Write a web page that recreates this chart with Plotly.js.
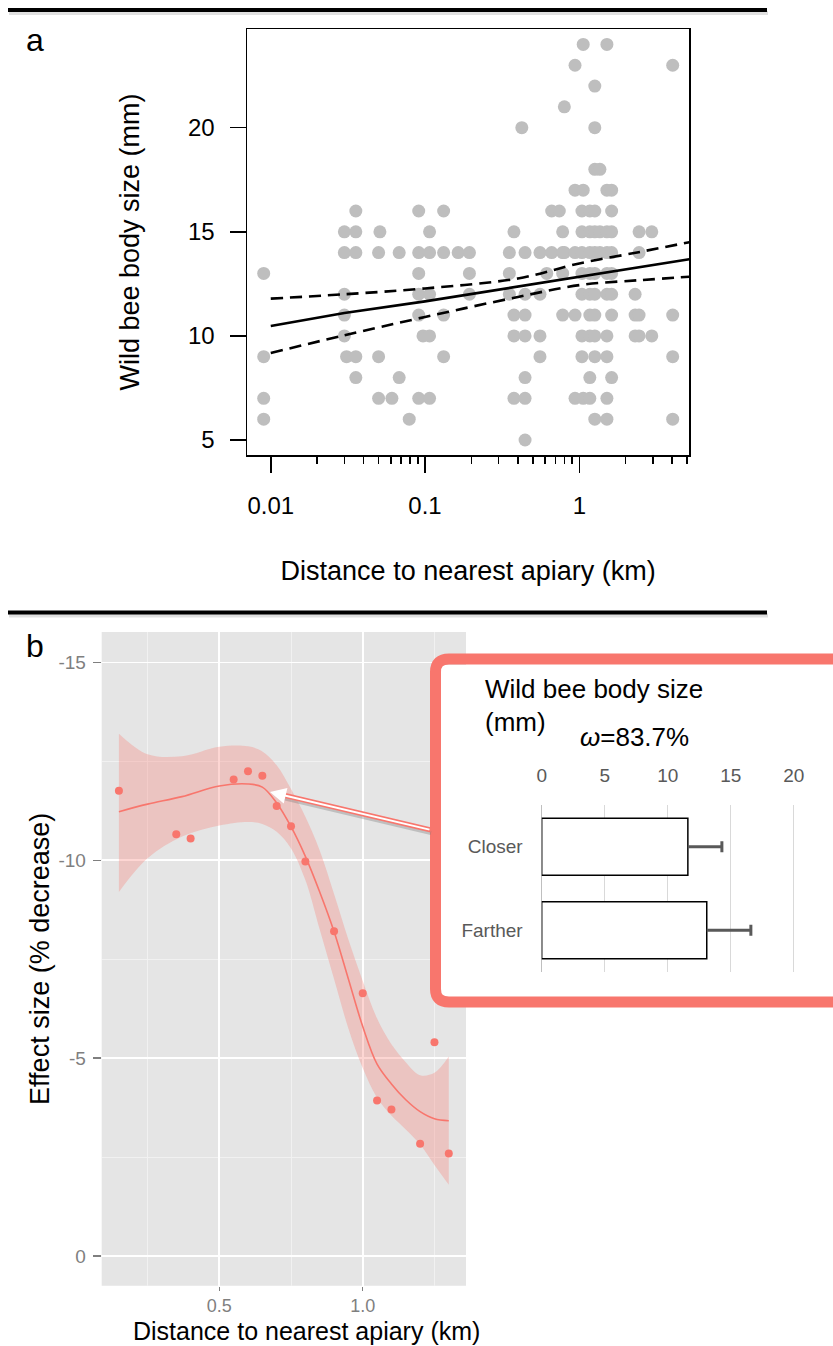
<!DOCTYPE html>
<html><head><meta charset="utf-8">
<script src="https://cdn.plot.ly/plotly-3.0.1.min.js"></script>
<style>html,body{margin:0;padding:0;background:#fff}</style>
</head><body><div id="chart" style="width:833px;height:1346px"></div>
<script>
// ---------- Panel a : wild bee body size vs distance (log scale) ----------
const beeDist = [
  0.009,0.009,0.009,0.009,
  0.030,0.030,0.030,0.030,0.030, 0.031,
  0.0356,0.0356,0.0356,0.0356,0.0356,
  0.050,0.050,0.050, 0.051, 0.061, 0.068,0.068, 0.079,
  0.091,0.091,0.091,0.091,0.091,0.091, 0.097,
  0.107,0.107,0.107,0.107,0.107,
  0.132,0.132,0.132,0.132, 0.164, 0.194,0.194,0.194,
  0.352,0.352,0.352, 0.377,0.377,0.377,0.377, 0.424,
  0.445,0.445,0.445,0.445,0.445,0.445,0.445,
  0.556,0.556,0.556,0.556, 0.615, 0.662,0.662, 0.742,
  0.780,0.780,0.780,0.780, 0.800,0.800,
  0.938,0.938,0.938,0.938,0.938,
  1.04,1.04,1.04,1.04,1.04,1.04,1.04, 1.06,1.06,1.06,
  1.17,1.17,1.17,1.17,1.17,1.17,1.17,1.17,1.17,
  1.26,1.26,1.26,1.26,1.26,1.26,1.26,1.26,1.26,1.26,1.26,1.26,
  1.36,1.36,1.36,
  1.51,1.51,1.51,1.51,1.51,1.51,1.51,1.51,1.51,1.51,
  1.62,1.62,1.62,1.62,1.62,1.62,1.62,1.62,
  2.30,2.30,2.30, 2.44,2.44,2.44,2.44, 2.95,2.95,
  4.03,4.03,4.03,4.03
];
const beeSize = [
  13,9,7,6,
  15,14,12,11,10, 9,
  16,15,14,9,8,
  14,9,7, 15, 7, 14,8, 6,
  16,14,13,12,11,7, 10,
  15,14,12,10,7,
  16,14,11,9, 14, 14,13,12,
  14,13,12, 15,11,10,7, 20,
  14,12,11,10,8,7,5,
  14,12,10,9, 13, 16,14, 16,
  15,14,13,11, 21,14,
  23,17,14,11,7,
  16,15,14,13,12,10,9, 24,17,7,
  16,15,14,13,12,11,10,8,7,
  22,20,18,16,15,14,13,12,11,10,9,6,
  18,15,14,
  24,17,15,14,13,12,10,9,7,6,
  17,16,15,14,13,12,11,8,
  12,11,10, 15,14,11,10, 15,10,
  23,11,9,6
];
const fitDist  = [0.01, 0.03, 0.1, 0.4, 1, 2.5, 5.16];
const fitMid   = [10.48, 11.10, 11.66, 12.37, 12.84, 13.31, 13.68];
const fitUpper = [11.79, 12.00, 12.28, 12.76, 13.48, 14.04, 14.50];
const fitLower = [9.18, 10.03, 10.91, 11.87, 12.44, 12.68, 12.84];
const aXTickVals = [0.01, 0.1, 1];
const aXTickText = ['0.01', '0.1', '1'];
const aXMinorVals = [0.02,0.03,0.04,0.05,0.06,0.07,0.08,0.09,0.2,0.3,0.4,0.5,0.6,0.7,0.8,0.9,2,3,4,5];
const aYTickVals = [5, 10, 15, 20];

// ---------- Panel b : effect size vs distance ----------
const effDist = [0.15, 0.35, 0.40, 0.55, 0.60, 0.65, 0.70, 0.75, 0.80, 0.90, 1.00, 1.05, 1.10, 1.20, 1.25, 1.30];
const effSize = [-11.76, -10.66, -10.55, -12.04, -12.25, -12.14, -11.37, -10.86, -9.97, -8.21, -6.64, -3.93, -3.70, -2.84, -5.40, -2.59];
const loessDist  = [0.15, 0.25, 0.37, 0.5, 0.6, 0.65, 0.7, 0.75, 0.8, 0.85, 0.9, 0.95, 1.0, 1.05, 1.1, 1.15, 1.2, 1.25, 1.3];
const loessFit   = [-11.23, -11.42, -11.61, -11.88, -11.93, -11.85, -11.45, -10.85, -10.1, -9.2, -8.2, -7.0, -5.8, -4.85, -4.35, -3.95, -3.65, -3.47, -3.42];
const loessUpper = [-13.2, -12.68, -12.63, -12.87, -12.88, -12.75, -12.4, -11.8, -11.1, -10.25, -9.15, -8.0, -6.95, -6.0, -5.35, -4.9, -4.57, -4.63, -5.04];
const loessLower = [-9.2, -10.05, -10.6, -10.88, -10.97, -10.92, -10.72, -10.3, -9.5, -8.25, -7.0, -5.75, -4.75, -4.0, -3.55, -3.2, -2.82, -2.3, -1.8];
const bXTickVals = [0.5, 1.0];
const bXTickText = ['0.5', '1.0'];
const bYTickVals = [-15, -10, -5, 0];
const bYTickText = ['-15', '-10', '-5', '0'];

// ---------- Inset : body size closer / farther ----------
const groups = ['Closer', 'Farther'];
const groupMean = [11.6, 13.1];
const groupErr = [2.7, 3.5];
const insetTicks = [0, 5, 10, 15, 20];

// ---------- geometry helpers (pixel -> paper) ----------
const W = 833, H = 1346;
const px = v => v / W;
const py = v => 1 - v / H;
const FONT = 'Liberation Sans, Arial, Helvetica, sans-serif';
const SALMON = '#F8766D';
const errEnd = groupMean.map((m, i) => m + groupErr[i]);

const traces = [
  {type:'scatter', mode:'markers', x:beeDist, y:beeSize, xaxis:'x', yaxis:'y',
   marker:{color:'#bebebe', size:13}, hoverinfo:'skip'},
  {type:'scatter', mode:'lines', x:fitDist, y:fitMid, xaxis:'x', yaxis:'y',
   line:{color:'#000', width:2.6}, hoverinfo:'skip'},
  {type:'scatter', mode:'lines', x:fitDist, y:fitUpper, xaxis:'x', yaxis:'y',
   line:{color:'#000', width:2.6, dash:'12px,7px', shape:'spline'}, hoverinfo:'skip'},
  {type:'scatter', mode:'lines', x:fitDist, y:fitLower, xaxis:'x', yaxis:'y',
   line:{color:'#000', width:2.6, dash:'12px,7px', shape:'spline'}, hoverinfo:'skip'},

  {type:'scatter', mode:'lines', x:loessDist, y:loessUpper, xaxis:'x2', yaxis:'y2',
   line:{width:0, shape:'spline'}, hoverinfo:'skip'},
  {type:'scatter', mode:'lines', x:loessDist, y:loessLower, xaxis:'x2', yaxis:'y2',
   line:{width:0, shape:'spline'}, fill:'tonexty', fillcolor:'rgba(248,118,109,0.3)', hoverinfo:'skip'},
  {type:'scatter', mode:'lines', x:loessDist, y:loessFit, xaxis:'x2', yaxis:'y2',
   line:{color:SALMON, width:1.6, shape:'spline'}, hoverinfo:'skip'},
  {type:'scatter', mode:'markers', x:effDist, y:effSize, xaxis:'x2', yaxis:'y2',
   marker:{color:SALMON, size:8}, hoverinfo:'skip'},

  // empty trace that creates the white inset panel (subplot x3y3)
  {type:'scatter', mode:'markers', x:[], y:[], xaxis:'x3', yaxis:'y3', hoverinfo:'skip'},

  {type:'bar', orientation:'h', x:groupMean, y:groups, xaxis:'x4', yaxis:'y4',
   marker:{color:'#ffffff', line:{color:'#000', width:1.5}},
   error_x:{type:'data', symmetric:false, array:groupErr, arrayminus:[0,0],
            color:'#595959', thickness:3, width:0},
   hoverinfo:'skip'},
  // error-bar caps
  {type:'scatter', mode:'markers', x:errEnd, y:groups, xaxis:'x4', yaxis:'y4',
   marker:{symbol:'line-ns-open', size:8, color:'#595959', line:{color:'#595959', width:3}}, hoverinfo:'skip'}
];

const layout = {
  width:W, height:H, autosize:false,
  margin:{l:0, r:0, t:0, b:0},
  paper_bgcolor:'#ffffff', plot_bgcolor:'#ffffff',
  showlegend:false,
  font:{family:FONT, color:'#000'},
  bargap:0.32,
  xaxis:{
    type:'log', domain:[px(247), px(689.3)], range:[-2.154, 0.713], anchor:'y',
    showline:true, linecolor:'#000', linewidth:1.5, mirror:true,
    ticks:'outside', ticklen:16, tickwidth:1.5, tickcolor:'#000',
    tickmode:'array', tickvals:aXTickVals, ticktext:aXTickText,
    tickfont:{size:24, color:'#000'}, ticklabelstandoff:13,
    minor:{tickmode:'array', tickvals:aXMinorVals, ticks:'outside', ticklen:7, tickwidth:1.5, tickcolor:'#000', showgrid:false},
    showgrid:false, zeroline:false,
    title:{text:'Distance to nearest apiary (km)', font:{size:27, color:'#000'}, standoff:43}
  },
  yaxis:{
    domain:[py(455), py(29)], range:[4.28, 24.74], anchor:'x',
    showline:true, linecolor:'#000', linewidth:1.5, mirror:true,
    ticks:'outside', ticklen:16, tickwidth:1.5, tickcolor:'#000',
    tickmode:'array', tickvals:aYTickVals,
    tickfont:{size:24, color:'#000'}, ticklabelstandoff:10,
    showgrid:false, zeroline:false,
    title:{text:'Wild bee body size (mm)', font:{size:27, color:'#000'}, standoff:40}
  },
  xaxis2:{
    domain:[px(101.7), px(466)], range:[0.09, 1.36], anchor:'y2',
    tickmode:'array', tickvals:bXTickVals, ticktext:bXTickText,
    ticks:'outside', ticklen:4, tickwidth:1.5, tickcolor:'#7f7f7f',
    tickfont:{size:18, color:'#7f7f7f'}, ticklabelstandoff:0,
    showgrid:true, gridcolor:'#ffffff', gridwidth:1.7, zeroline:false, showline:false,
    minor:{tickmode:'array', tickvals:[0.25, 0.75, 1.25], showgrid:true, gridcolor:'#f2f2f2', gridwidth:0.9, ticks:''}
  },
  yaxis2:{
    domain:[py(1285.7), py(632)], range:[0.75, -15.77], anchor:'x2',
    tickmode:'array', tickvals:bYTickVals, ticktext:bYTickText,
    ticks:'outside', ticklen:8, tickwidth:1.5, tickcolor:'#7f7f7f',
    tickfont:{size:19, color:'#7f7f7f'}, ticklabelstandoff:3,
    showgrid:true, gridcolor:'#ffffff', gridwidth:1.7, zeroline:false, showline:false,
    minor:{tickmode:'array', tickvals:[-12.5, -7.5, -2.5], showgrid:true, gridcolor:'#f2f2f2', gridwidth:0.9, ticks:''},
    title:{text:'Effect size (% decrease)', font:{size:27, color:'#000'}, standoff:0}
  },
  xaxis3:{domain:[px(441), 1], range:[0,1], anchor:'y3', showgrid:false, zeroline:false,
          showticklabels:false, ticks:'', showline:false, fixedrange:true},
  yaxis3:{domain:[py(997), py(665)], range:[0,1], anchor:'x3', showgrid:false, zeroline:false,
          showticklabels:false, ticks:'', showline:false, fixedrange:true},
  xaxis4:{
    domain:[px(541.7), px(818.9)], range:[0, 22], anchor:'y4', side:'top',
    tickmode:'array', tickvals:insetTicks, ticks:'',
    tickfont:{size:19, color:'#595959'}, ticklabelstandoff:18,
    showgrid:true, gridcolor:'#d9d9d9', gridwidth:1.5,
    zeroline:true, zerolinecolor:'#bfbfbf', zerolinewidth:1.5, showline:false
  },
  yaxis4:{
    domain:[py(972), py(805)], type:'category', range:[1.5, -0.5], anchor:'x4',
    ticks:'', tickfont:{size:19, color:'#595959'}, ticklabelstandoff:18,
    showgrid:false, zeroline:false, showline:false
  },
  shapes:[
    // panel b grey background
    {type:'rect', xref:'paper', yref:'paper', layer:'below',
     x0:px(101.7), x1:px(466), y0:py(1285.7), y1:py(632), fillcolor:'#e5e5e5', line:{width:0}},
    // horizontal rules with shadow
    {type:'line', xref:'paper', yref:'paper', x0:px(9), x1:px(768), y0:py(13), y1:py(13), line:{color:'rgba(0,0,0,0.12)', width:4}},
    {type:'line', xref:'paper', yref:'paper', x0:px(8), x1:px(767), y0:py(10), y1:py(10), line:{color:'#000', width:4}},
    {type:'line', xref:'paper', yref:'paper', x0:px(9), x1:px(768), y0:py(615.5), y1:py(615.5), line:{color:'rgba(0,0,0,0.12)', width:4}},
    {type:'line', xref:'paper', yref:'paper', x0:px(8), x1:px(767), y0:py(612.5), y1:py(612.5), line:{color:'#000', width:4}},
    // inset frame
    {type:'path', xref:'paper', yref:'paper', layer:'above',
     path:`M ${px(850)},${py(659)} L ${px(449)},${py(659)} Q ${px(435.5)},${py(659)} ${px(435.5)},${py(672)} L ${px(435.5)},${py(989)} Q ${px(435.5)},${py(1002)} ${px(449)},${py(1002)} L ${px(850)},${py(1002)}`,
     line:{color:SALMON, width:11}},
    // arrow body (shadow + salmon edge)
    {type:'line', xref:'paper', yref:'paper', layer:'above',
     x0:px(431), y0:py(833), x1:px(283), y1:py(798), line:{color:'rgba(120,120,120,0.35)', width:4}},
    {type:'line', xref:'paper', yref:'paper', layer:'above',
     x0:px(431), y0:py(830), x1:px(283), y1:py(795), line:{color:SALMON, width:5}}
  ],
  annotations:[
    {text:'a', xref:'paper', yref:'paper', x:px(35), y:py(40), showarrow:false,
     xanchor:'center', yanchor:'middle', font:{size:32, color:'#000'}},
    {text:'b', xref:'paper', yref:'paper', x:px(35), y:py(646), showarrow:false,
     xanchor:'center', yanchor:'middle', font:{size:32, color:'#000'}},
    {text:'Distance to nearest apiary (km)', xref:'paper', yref:'paper', x:px(306.7), y:py(1331),
     showarrow:false, xanchor:'center', yanchor:'middle', font:{size:25, color:'#000'}},
    {text:'', xref:'paper', yref:'paper', x:px(270), y:py(792), ax:161, ay:38,
     showarrow:true, arrowhead:2, arrowsize:1.6, arrowwidth:2, arrowcolor:'#ffffff'},
    {text:'Wild bee body size', xref:'paper', yref:'paper', x:px(483), y:py(689), showarrow:false,
     xanchor:'left', yanchor:'middle', font:{size:26, color:'#000'}},
    {text:'(mm)', xref:'paper', yref:'paper', x:px(483), y:py(722), showarrow:false,
     xanchor:'left', yanchor:'middle', font:{size:26, color:'#000'}},
    {text:'<i>ω</i>=83.7%', xref:'paper', yref:'paper', x:px(634), y:py(737), showarrow:false,
     xanchor:'center', yanchor:'middle', font:{size:26, color:'#000'}}
  ]
};

Plotly.newPlot('chart', traces, layout, {staticPlot:true, displayModeBar:false});
</script>
</body></html>
